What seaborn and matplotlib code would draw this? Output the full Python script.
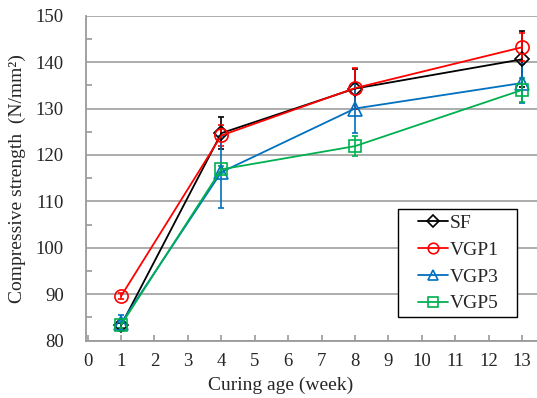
import matplotlib
matplotlib.use("Agg")
import matplotlib.pyplot as plt
import seaborn as sns
import pandas as pd
from matplotlib.ticker import MultipleLocator
from matplotlib.lines import Line2D
from matplotlib.patches import Rectangle

weeks = [1, 4, 8, 13]
series_names = ["SF", "VGP1", "VGP3", "VGP5"]
sf = [83.3, 124.7, 134.3, 140.6]
vgp1 = [89.6, 124.2, 134.4, 143.2]
vgp3 = [83.8, 116.3, 130.0, 135.5]
vgp5 = [83.4, 116.9, 121.9, 134.0]
sf_err = [0.6, 3.5, 4.3, 6.0]
vgp1_err = [0.7, 2.3, 4.4, 3.0]
vgp3_err = [1.8, 7.8, 5.3, 4.2]
vgp5_err = [0.6, 0.8, 2.1, 2.5]

values = [sf, vgp1, vgp3, vgp5]
errors = [sf_err, vgp1_err, vgp3_err, vgp5_err]
colors = ["#000000", "#ff0000", "#0070c0", "#00b050"]
markers = ["D", "o", "^", "s"]
msizes = [7.5, 9.5, 9.5, 9]

sns.set_style("white")
plt.rcParams["font.family"] = ["Liberation Serif", "DejaVu Serif"]

W, H = 537, 398
fig = plt.figure(figsize=(W / 100, H / 100), dpi=100)
x0, y_top, y_bot = 86, 15.7, 340.7
ax = fig.add_axes([x0 / W, (H - y_bot) / H, (W - x0) / W, (y_bot - y_top) / H])

handles = []
for name, vals, errs, c, m, ms in zip(series_names, values, errors, colors, markers, msizes):
    df = pd.DataFrame({"week": weeks, "strength": vals})
    ax.errorbar(weeks, vals, yerr=errs, fmt="none", ecolor=c, elinewidth=1.2,
                capsize=2.5, capthick=1.2, zorder=2)
    sns.lineplot(data=df, x="week", y="strength", ax=ax, color=c, lw=1.3,
                 marker=m, markersize=ms, markerfacecolor="none",
                 markeredgecolor=c, markeredgewidth=1.2, zorder=3)
    handles.append(Line2D([], [], color=c, lw=1.3, marker=m, markersize=ms * 0.8,
                          markerfacecolor="none", markeredgecolor=c,
                          markeredgewidth=1.2, label=name))

ax.set_xlim(-0.05, 13.45)
ax.set_ylim(80, 150)
ax.xaxis.set_major_locator(MultipleLocator(1))
ax.yaxis.set_major_locator(MultipleLocator(10))
ax.yaxis.set_minor_locator(MultipleLocator(5))
ax.grid(axis="y", which="major", color="#a6a6a6", lw=1.3)
ax.set_axisbelow(True)
for s in ["top", "right"]:
    ax.spines[s].set_visible(False)
for s in ["left", "bottom"]:
    ax.spines[s].set_color("#9a9a9a")
    ax.spines[s].set_linewidth(1.3)
ax.tick_params(axis="both", which="both", direction="in", color="#9a9a9a",
               labelsize=13.5, width=1.2)
ax.tick_params(axis="y", which="major", length=0, pad=16)
ax.tick_params(axis="y", which="minor", length=4, left=True)
ax.tick_params(axis="x", which="major", length=4, bottom=True, pad=9)

ax.set_xlabel("Curing age (week)", fontsize=14)
ax.set_ylabel("Compressive strength  (N/mm²)", fontsize=14)
ax.xaxis.set_label_coords((281 - x0) / (W - x0), (y_bot - 385) / (y_bot - y_top))
ax.xaxis.label.set_va("center")
ax.yaxis.set_label_coords((17 - x0) / (W - x0), 0.5)
ax.yaxis.label.set_va("center")

# legend box drawn as a separate frame so the wide side padding can be kept
ax.add_patch(Rectangle((398 / W, (H - 317) / H), (517 - 398) / W, (317 - 209) / H,
                       transform=fig.transFigure, fill=True, facecolor="white",
                       edgecolor="black", lw=1.0, zorder=5, clip_on=False))
leg = ax.legend(handles=handles, loc="upper left",
                bbox_to_anchor=(418 / W, (H - 214) / H), bbox_transform=fig.transFigure,
                fontsize=14, frameon=False, handlelength=1.55, handletextpad=0.1,
                borderpad=0, labelspacing=0.48, borderaxespad=0)
leg.set_zorder(6)

fig.savefig("out.png", dpi=100)
